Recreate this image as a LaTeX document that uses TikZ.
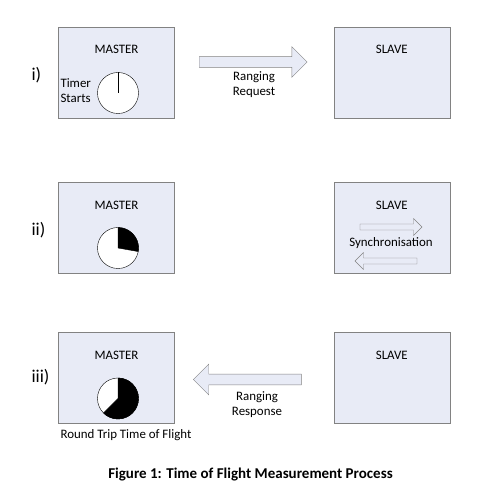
\documentclass[tikz,border=0pt]{standalone}
\usepackage{fontspec}
\setmainfont{Carlito}
\usetikzlibrary{shapes.arrows}
\definecolor{boxfill}{RGB}{232,235,246}
\definecolor{boxline}{RGB}{130,130,130}
\begin{document}
\begin{tikzpicture}[x=1pt, y=1pt, font=\fontsize{12.9}{15}\selectfont,
    unit/.style={draw=boxline, fill=boxfill, minimum width=116pt, minimum height=91pt, inner sep=0pt},
    clock/.style={circle, draw, fill=white, minimum size=41pt, inner sep=0pt, outer sep=0pt},
    bigarrow/.style={single arrow, draw=boxline, fill=boxfill, inner xsep=0pt, inner ysep=5.2pt,
        minimum width=30pt, minimum height=108pt, single arrow head extend=10pt},
    smallarrow/.style={single arrow, draw=boxline, fill=boxfill, inner xsep=0pt, inner ysep=2.8pt,
        minimum width=16pt, minimum height=62pt, single arrow head extend=5.5pt},
    stagelabel/.style={font=\fontsize{18}{20}\selectfont, anchor=west}]
    \useasboundingbox (0,0) rectangle (484,495);

    % i) ranging request
    \node[unit] (m1) at (116.5, 422.5) {};
    \node[unit] (s1) at (391.8, 422.5) {};
    \node (m1t) at ([yshift=-23pt]m1.north) {MASTER};
    \node (s1t) at ([yshift=-23pt]s1.north) {SLAVE};
    \node[clock] (c1) at (118, 402) {};
    \draw (c1.center) -- (c1.north);
    \node[align=left, anchor=east] (t1) at ([xshift=-3pt, yshift=2.5pt]c1.west) {Timer\\Starts};
    \node[bigarrow] (a1) at (250.5, 433) {};
    \node[align=center] (l1) at (254, 410.5) {Ranging\\Request};
    \node[stagelabel] (n1) at (28, 420) {i)};

    % ii) synchronisation
    \node[unit] (m2) at (116.5, 267) {};
    \node[unit] (s2) at (391.8, 267) {};
    \node (m2t) at ([yshift=-23pt]m2.north) {MASTER};
    \node (s2t) at ([yshift=-23pt]s2.north) {SLAVE};
    \node[clock] (c2) at (118, 247) {};
    \filldraw (c2.center) -- (c2.north) arc[start angle=90, end angle=-10, radius=20.5pt] -- cycle;
    \node[smallarrow] (a2) at (389.5, 268) {};
    \node[smallarrow, shape border rotate=180] (a3) at (387.5, 234) {};
    \node (l2) at (391, 252) {Synchronisation};
    \node[stagelabel] (n2) at (28, 264.5) {ii)};

    % iii) ranging response
    \node[unit] (m3) at (116.5, 117) {};
    \node[unit] (s3) at (391.8, 117) {};
    \node (m3t) at ([yshift=-23pt]m3.north) {MASTER};
    \node (s3t) at ([yshift=-23pt]s3.north) {SLAVE};
    \node[clock] (c3) at (118, 96.5) {};
    \filldraw (c3.center) -- (c3.north) arc[start angle=90, end angle=-135, radius=20.5pt] -- cycle;
    \node[bigarrow, shape border rotate=180] (a4) at (250, 115.5) {};
    \node[align=center] (l3) at (257, 90.5) {Ranging\\Response};
    \node[stagelabel] (n3) at (28, 117.5) {iii)};
    \node (rt) at (126, 60) {Round Trip Time of Flight};

    \node[font=\fontsize{15}{17}\selectfont\bfseries] (cap) at (250.5, 20)
        {Figure 1: Time of Flight Measurement Process};
\end{tikzpicture}
\end{document}
